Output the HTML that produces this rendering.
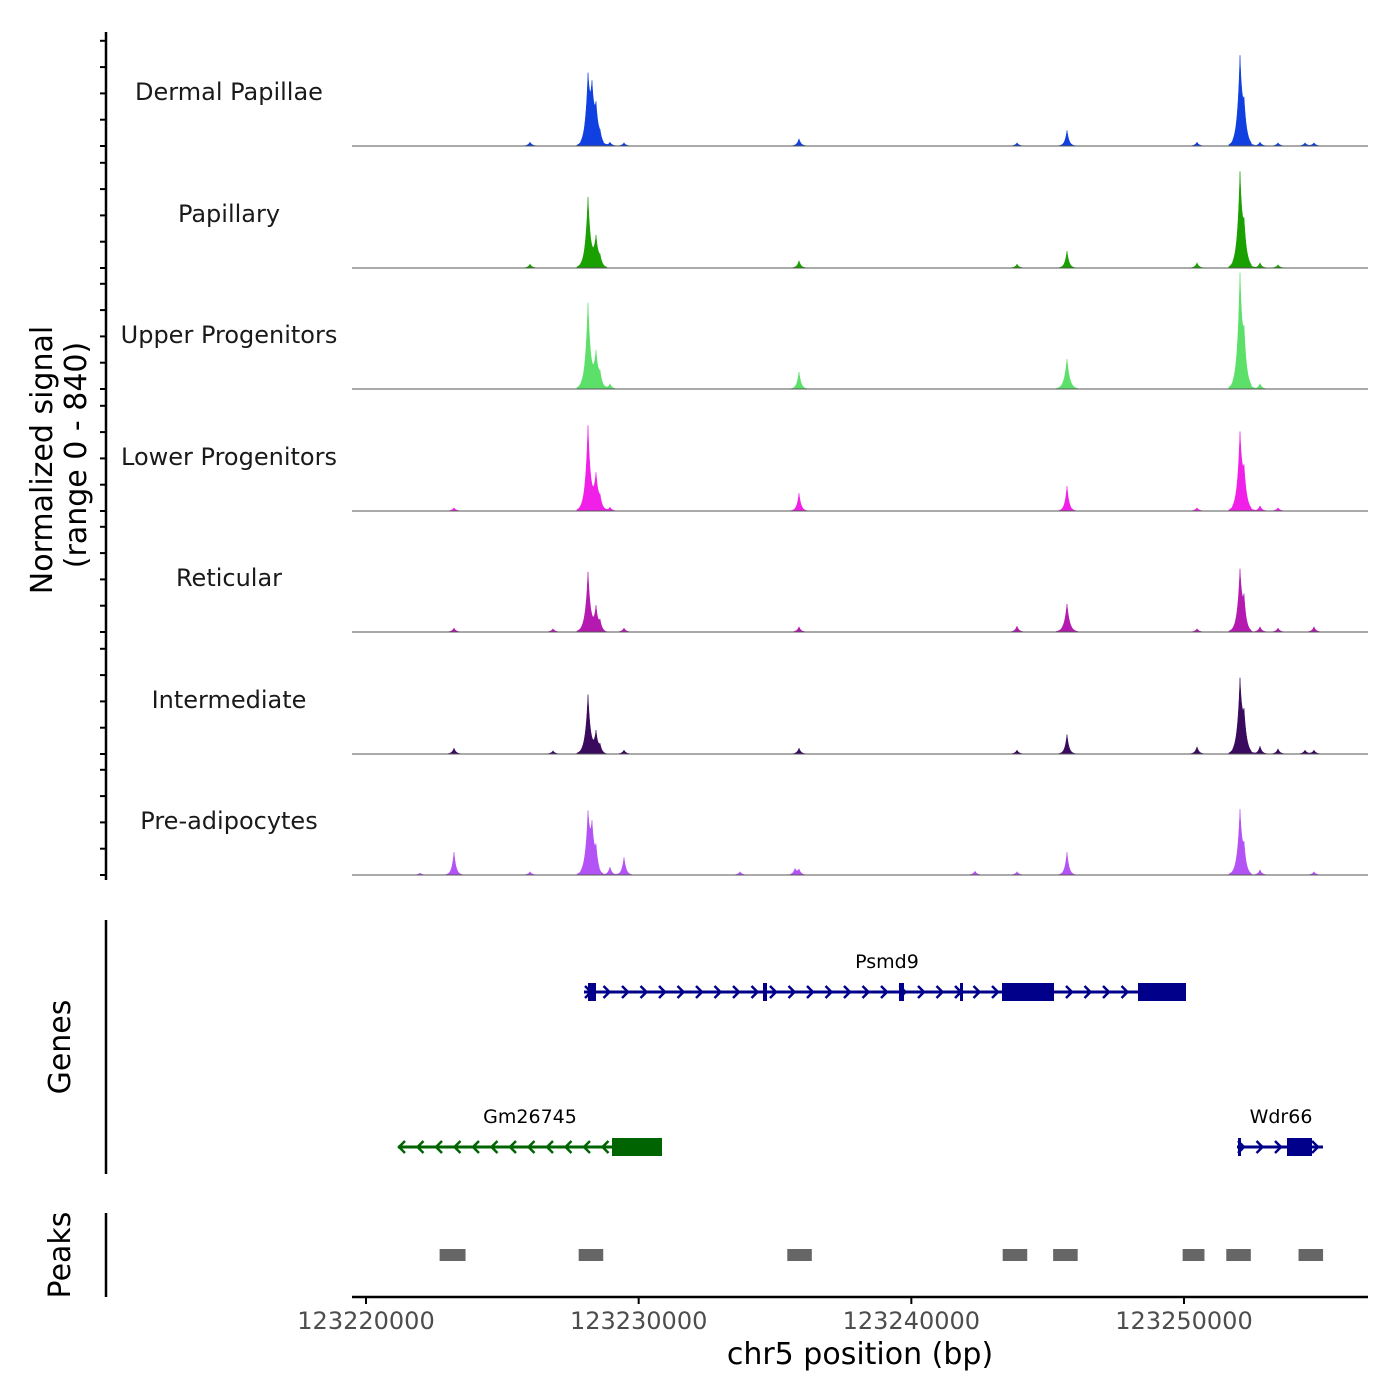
<!DOCTYPE html>
<html><head><meta charset="utf-8"><style>
body{margin:0;background:#fff;}
svg{display:block;font-family:"DejaVu Sans","Liberation Sans",sans-serif;}
</style></head><body>
<svg id="chart" width="1400" height="1400" viewBox="0 0 1400 1400">
<g id="tracks"></g>
<g id="yaxis"></g>
<text transform="translate(52,460) rotate(-90)" text-anchor="middle" font-size="30" fill="#000">Normalized signal</text>
<text transform="translate(86,455) rotate(-90)" text-anchor="middle" font-size="30" fill="#000">(range 0 - 840)</text>
<line x1="106" y1="920" x2="106" y2="1174" stroke="#000" stroke-width="2.5"/>
<text transform="translate(70,1047) rotate(-90)" text-anchor="middle" font-size="30">Genes</text>
<line x1="106" y1="1213" x2="106" y2="1297" stroke="#000" stroke-width="2.5"/>
<text transform="translate(70,1255) rotate(-90)" text-anchor="middle" font-size="30">Peaks</text>
<g id="genes"></g>
<g id="peaks"></g>
<g id="xaxis"></g>
<text x="860" y="1364" text-anchor="middle" font-size="30">chr5 position (bp)</text>
</svg>
<script>
const trackNames=["Dermal Papillae","Papillary","Upper Progenitors","Lower Progenitors","Reticular","Intermediate","Pre-adipocytes"];
const trackColors=["#1040e0","#1aa000","#5ce06a","#f020e8","#b51ab0","#3a0a5e","#b453f5"];
const dpPos=[123226015,123228142,123228288,123228435,123228582,123228948,123229462,123235880,123243875,123245708,123250476,123252053,123252200,123252786,123253447,123254437,123254767];
const dpVal=[30,470,340,230,60,30,25,55,25,120,30,640,230,30,25,25,25];
const papPos=[123226015,123228142,123228435,123228582,123235880,123243875,123245708,123250476,123252053,123252200,123252786,123253447];
const papVal=[30,530,215,60,55,30,130,40,685,230,40,25];
const upPos=[123228142,123228435,123228582,123228948,123235880,123245708,123252053,123252200,123252786];
const upVal=[645,250,90,40,130,230,820,300,40];
const lpPos=[123223227,123228142,123228435,123228582,123228948,123235880,123245708,123250476,123252053,123252200,123252786,123253447];
const lpVal=[25,640,250,75,30,135,190,25,555,230,40,25];
const retPos=[123223227,123226858,123228142,123228435,123228582,123229462,123235880,123243875,123245708,123250476,123252053,123252200,123252786,123253447,123254767];
const retVal=[30,25,455,170,75,30,40,45,215,25,455,190,40,30,40];
const intPos=[123223227,123226858,123228142,123228435,123228582,123229462,123235880,123243875,123245708,123250476,123252053,123252200,123252786,123253447,123254437,123254767];
const intVal=[45,25,450,150,60,30,45,30,150,55,530,230,60,40,30,30];
const paPos=[123221980,123223227,123226015,123228142,123228288,123228435,123228948,123229462,123233716,123235733,123235880,123242334,123243875,123245708,123252053,123252200,123252786,123254767];
const paVal=[15,175,25,420,300,150,60,135,25,45,40,30,25,175,480,150,40,25];
const allPos=[dpPos,papPos,upPos,lpPos,retPos,intPos,paPos];
const allVal=[dpVal,papVal,upVal,lpVal,retVal,intVal,paVal];
const xTicks=[123220000,123230000,123240000,123250000];
const peakStarts=[123222700,123227800,123235450,123243350,123245200,123249950,123251550,123254200];
const peakEnds=[123223650,123228700,123236350,123244250,123246100,123250750,123252450,123255100];

const NS="http://www.w3.org/2000/svg";
const X0=352,X1=1368;
const xs=bp=>366+(bp-123220000)*272.67/10000;
const pxPerUnit=0.1315;
function mk(tag,attrs,parent){const e=document.createElementNS(NS,tag);for(const k in attrs)e.setAttribute(k,attrs[k]);parent.appendChild(e);return e;}
const baselines=[146,268,389,511,632,754,875];
const tracks=document.getElementById('tracks');
for(let t=0;t<7;t++){
  const base=baselines[t];
  const g=mk('g',{},tracks);
  
  
  let d='M'+X0+','+base;
  for(let x=X0;x<=X1;x+=0.5){
    let v=0;
    for(let i=0;i<allPos[t].length;i++){
      const dx=Math.abs(x-xs(allPos[t][i]));
      const w=allVal[t][i]>200?4.5:3.5;
      if(dx<w*2.5) v+=allVal[t][i]*Math.exp(-dx/(w*0.6));
    }
    d+=' L'+x+','+(base-v*pxPerUnit).toFixed(2);
  }
  d+=' L'+X1+','+base+' Z';
  const p=mk('path',{d:d,fill:trackColors[t],stroke:trackColors[t],'stroke-width':0.5},g);
  
  
  const bl=mk('line',{x1:X0,x2:X1,y1:base,y2:base,stroke:'#555','stroke-width':1},g);
  
  
  const lab=mk('text',{x:229,y:base-46,'text-anchor':'middle','font-size':24,fill:'#1a1a1a'},g);
  lab.textContent=trackNames[t];
  
  
}
const ya=document.getElementById('yaxis');
mk('line',{x1:106,x2:106,y1:32,y2:880,stroke:'#000','stroke-width':2.5},ya);
for(let t=0;t<7;t++){for(let k=0;k<5;k++){const y=baselines[t]-k*200*pxPerUnit;
  const tk=mk('line',{x1:100,x2:106,y1:y,y2:y,stroke:'#000','stroke-width':2},ya);
  
  }}
const gg=document.getElementById('genes');
function gene(name,x1,x2,y,color,dir,exons,labX){
  const g=mk('g',{},gg);
  
  
  mk('line',{x1:x1,x2:x2,y1:y,y2:y,stroke:color,'stroke-width':3},g);
  for(let x=x1+4;x<x2-2;x+=18.5){
    const a=dir>0?`M${x-3},${y-6} L${x+3},${y} L${x-3},${y+6}`:`M${x+3},${y-6} L${x-3},${y} L${x+3},${y+6}`;
    mk('path',{d:a,fill:'none',stroke:color,'stroke-width':2.5},g);
  }
  exons.forEach(e=>mk('rect',{x:e[0],y:y-e[2]/2,width:e[1]-e[0],height:e[2],fill:color},g));
  const t=mk('text',{x:labX,y:y-24,'text-anchor':'middle','font-size':19},g);
  t.textContent=name;
}
gene('Psmd9',584,1186,992,'#00008b',1,[[588,596,18],[763,767,18],[899,904,18],[960,963,18],[1002,1054,18],[1138,1186,18]],887);
gene('Gm26745',398,662,1147,'#006400',-1,[[612,662,18]],530);
gene('Wdr66',1237,1323,1147,'#00008b',1,[[1238,1241,18],[1287,1312,18]],1281);
const pk=document.getElementById('peaks');
for(let i=0;i<peakStarts.length;i++){
  const r=mk('rect',{x:xs(peakStarts[i]),y:1249,width:xs(peakEnds[i])-xs(peakStarts[i]),height:12,fill:'#666'},pk);
  
  
}
const xa=document.getElementById('xaxis');
mk('line',{x1:X0,x2:X1,y1:1297,y2:1297,stroke:'#000','stroke-width':2.5},xa);
xTicks.forEach(v=>{const x=xs(v);
  const tk=mk('line',{x1:x,x2:x,y1:1297,y2:1304,stroke:'#000','stroke-width':2},xa);
  
  
  const t=mk('text',{x:x,y:1329,'text-anchor':'middle','font-size':24,fill:'#4d4d4d'},xa);
  t.textContent=v;
  
  
});
</script>
</body></html>
